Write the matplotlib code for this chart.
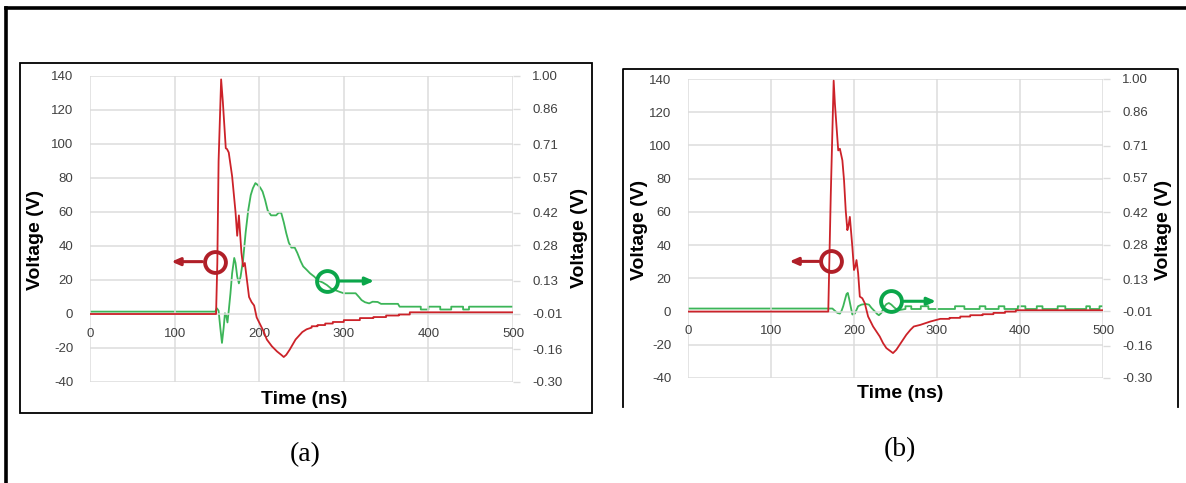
import numpy as np
import matplotlib
matplotlib.use("Agg")
import matplotlib.pyplot as plt
from matplotlib.lines import Line2D
from matplotlib.patches import Rectangle

# ---- data: time in ns, left axis in V, right axis (probe) in V ----
t_a_red = [0, 149, 150.5, 152, 155, 157, 160.5, 162, 164, 168, 172, 174, 176, 179, 181, 183,
           186, 188, 191, 194, 197, 201, 205, 209, 215, 221, 226, 229, 232, 236, 243, 251,
           256, 262, 262, 269, 269, 278, 278, 287, 287, 300, 300, 319, 319, 335, 335, 350,
           350, 365, 365, 378, 378, 500]
v_a_red = [0, 0, 30, 90, 138, 125, 97.5, 97, 95, 81, 60, 46, 58, 36, 28, 30,
           18, 10, 7, 5, -2, -6, -10, -15, -19, -22, -24, -25.3, -24, -21, -15, -10.6,
           -9, -8, -7.2, -7.2, -6.5, -6.5, -5.6, -5.6, -4.7, -4.7, -3.6, -3.6, -2.4, -2.4, -1.8, -1.8,
           -0.9, -0.9, -0.3, -0.3, 1, 1]

t_a_green = [0, 148, 150, 152, 154, 156, 158, 159.5, 161, 162.5, 164, 166, 168, 170.5, 172,
             174, 176, 178, 181, 184, 187, 190, 192.5, 195.5, 198, 201, 204, 207, 210, 214,
             220, 223, 226, 229, 232, 235, 238, 242, 245, 249, 252, 256, 260, 265, 270, 275,
             280, 285, 290, 295, 300, 314, 318, 321, 325, 330, 334, 340, 344, 364, 366, 391,
             391, 400, 400, 414, 414, 427, 427, 441, 441, 448, 448, 500]
v_a_green = [-0.001, -0.001, 0.013, 0.003, -0.069, -0.134, -0.069, -0.008, -0.018, -0.047, 0.003, 0.076, 0.162, 0.227, 0.206,
             0.148, 0.119, 0.148, 0.220, 0.336, 0.429, 0.494, 0.523, 0.545, 0.538, 0.527, 0.509, 0.473, 0.429, 0.408,
             0.408, 0.419, 0.419, 0.379, 0.332, 0.292, 0.271, 0.271, 0.249, 0.213, 0.191, 0.177, 0.162, 0.148, 0.130, 0.123,
             0.112, 0.097, 0.090, 0.083, 0.077, 0.077, 0.061, 0.048, 0.039, 0.034, 0.041, 0.040, 0.032, 0.032, 0.020, 0.020,
             0.008, 0.008, 0.020, 0.020, 0.008, 0.008, 0.020, 0.020, 0.008, 0.008, 0.020, 0.020]

t_b_red = [0, 169, 172, 175.5, 177, 179, 181, 183, 186, 188, 190, 192, 193.5, 195, 196.5, 198,
           200, 201.5, 203, 205, 207, 210, 213, 217, 220, 223, 227, 231, 235, 239, 243, 247,
           251, 255, 259, 263, 268, 272, 276, 280, 286, 292, 298, 304, 315, 315, 328, 328,
           340, 340, 355, 355, 368, 368, 382, 382, 395, 395, 500]
v_b_red = [0, 0, 70, 139, 125, 111, 97, 98, 91, 79, 61, 49, 52, 57, 48, 39,
           25, 27, 31, 23, 9, 8, 5, -3, -6, -9, -12, -15, -19, -22, -23.5, -25,
           -23, -20, -17, -14, -11, -9, -8.5, -8, -7, -6, -5.2, -4.4, -4.4, -3.8, -3.8, -3.0,
           -3.0, -2.2, -2.2, -1.6, -1.6, -0.8, -0.8, 0, 0, 0.8, 0.8]

t_b_green = [0, 174, 177, 180, 183, 185, 187, 189, 191, 192.5, 194, 196, 198, 201, 203, 205,
             209, 214, 218, 221, 225, 228, 230, 233, 236, 239, 242, 245, 249, 253, 257, 262,
             262, 269, 269, 280.5, 280.5, 289.6, 289.6, 321.7, 321.7, 333, 333, 351.4, 351.4, 358.3,
             358.3, 374.3, 374.3, 381.2, 381.2, 397.4, 397.4, 406.5, 406.5, 420.2, 420.2, 427.1,
             427.1, 445.4, 445.4, 454.6, 454.6, 479.8, 479.8, 484.3, 484.3, 495.8, 495.8, 500]
v_b_green = [0.002, 0.002, -0.008, -0.017, -0.020, -0.008, 0.012, 0.039, 0.065, 0.070, 0.047, 0.011, -0.024, -0.020, -0.004, 0.012,
             0.019, 0.022, 0.019, 0.005, -0.010, -0.022, -0.027, -0.017, 0.007, 0.021, 0.026, 0.019, 0.005, -0.005, -0.003, 0.000,
             0.012, 0.012, 0.000, 0.000, 0.012, 0.012, 0.000, 0.000, 0.012, 0.012, 0.000, 0.000, 0.012, 0.012,
             0.000, 0.000, 0.012, 0.012, 0.000, 0.000, 0.012, 0.012, 0.000, 0.000, 0.012, 0.012,
             0.000, 0.000, 0.012, 0.012, 0.000, 0.000, 0.012, 0.012, 0.000, 0.000, 0.012, 0.012]

left_ticks = [-40, -20, 0, 20, 40, 60, 80, 100, 120, 140]
right_ticks = [-0.30, -0.16, -0.01, 0.13, 0.28, 0.42, 0.57, 0.71, 0.86, 1.00]
x_ticks = [0, 100, 200, 300, 400, 500]

RED = "#cc2229"
GREEN = "#3cb558"
RED_MARK = "#b01f28"
GREEN_MARK = "#0ba64a"
TICK_COLOR = "#404040"
GRID = "#dcdcdc"

W, H = 1186, 483
plt.rcParams["font.family"] = ["Liberation Sans", "DejaVu Sans"]
plt.rcParams["axes.unicode_minus"] = False
fig = plt.figure(figsize=(W / 100, H / 100), dpi=100)


def px_axes(l, t, r, b):
    return fig.add_axes([l / W, 1 - b / H, (r - l) / W, (b - t) / H])


def fig_line(xs, ys, lw):
    fig.add_artist(Line2D([x / W for x in xs], [1 - y / H for y in ys],
                          transform=fig.transFigure, color="black", lw=lw))


def draw_panel(box, t_red, v_red, t_green, v_green, red_mark, green_mark):
    l, t, r, b = box
    ax = px_axes(l, t, r, b)
    ax.set_xlim(0, 500)
    ax.set_ylim(-40, 140)
    ax.set_xticks(x_ticks)
    ax.set_yticks(left_ticks)
    ax.grid(True, color=GRID, lw=1.1)
    ax.set_axisbelow(True)
    for s in ax.spines.values():
        s.set_visible(False)
    ax.spines["bottom"].set_position(("data", 0))
    ax.tick_params(axis="x", length=0, pad=10, labelsize=9.5, labelcolor=TICK_COLOR)
    ax.tick_params(axis="y", length=0, pad=12, labelsize=9.5, labelcolor=TICK_COLOR)

    ax2 = ax.twinx()
    ax2.set_ylim(-0.30, 1.00)
    ax2.set_yticks(right_ticks)
    ax2.set_yticklabels([f"{v:.2f}" for v in right_ticks])
    for s in ax2.spines.values():
        s.set_visible(False)
    ax2.tick_params(axis="y", length=5, width=1, color=GRID, pad=9,
                    labelsize=9.5, labelcolor=TICK_COLOR)

    ax2.plot(t_green, v_green, color=GREEN, lw=1.3, zorder=3)
    ax.plot(t_red, v_red, color=RED, lw=1.3, zorder=4)
    ax.set_zorder(ax2.get_zorder() + 1)
    ax.patch.set_visible(False)

    # circle markers with arrows pointing to the owning axis
    rx, ry, rtip = red_mark
    gx, gy, gtip = green_mark
    kw = dict(arrowstyle="-|>,head_length=0.5,head_width=0.22", lw=2.2)
    ax.annotate("", xy=(rtip, ry), xytext=(rx - 12, ry),
                arrowprops=dict(color=RED_MARK, **kw), zorder=6)
    ax.plot(rx, ry, "o", ms=15, mfc="none", mec=RED_MARK, mew=2.8, zorder=7)
    ax.annotate("", xy=(gtip, gy), xytext=(gx + 12, gy),
                arrowprops=dict(color=GREEN_MARK, **kw), zorder=6)
    ax.plot(gx, gy, "o", ms=15, mfc="none", mec=GREEN_MARK, mew=2.8, zorder=7)
    return ax


draw_panel((90, 76, 513, 382), t_a_red, v_a_red, t_a_green, v_a_green,
           (148, 30.8, 93), (280, 19.4, 339))
draw_panel((688, 79, 1103, 378), t_b_red, v_b_red, t_b_green, v_b_green,
           (172.8, 30.2, 119), (245, 6.2, 302))

label_kw = dict(fontsize=14, fontweight="bold", color="black", ha="center", va="center")
fig.text(36 / W, 1 - 240 / H, "Voltage (V)", rotation=90, **label_kw)
fig.text(580 / W, 1 - 238 / H, "Voltage (V)", rotation=90, **label_kw)
fig.text(304 / W, 1 - 399 / H, "Time (ns)", **label_kw)
fig.text(640 / W, 1 - 230 / H, "Voltage (V)", rotation=90, **label_kw)
fig.text(1163 / W, 1 - 230 / H, "Voltage (V)", rotation=90, **label_kw)
fig.text(900 / W, 1 - 394 / H, "Time (ns)", **label_kw)

cap_kw = dict(fontsize=20, family="Liberation Serif", ha="center", va="center")
fig.text(305 / W, 1 - 455 / H, "(a)", **cap_kw)
fig.text(900 / W, 1 - 450 / H, "(b)", **cap_kw)

# frames
fig_line([6, 6], [8, 483], 2.6)
fig_line([6, 1186], [8, 8], 2.6)
fig.add_artist(Rectangle((20 / W, 1 - 413 / H), 572 / W, 350 / H, fill=False,
                         ec="black", lw=1.3, transform=fig.transFigure))
fig_line([623, 623, 1178, 1178], [407, 69, 69, 407], 1.3)

fig.savefig("out.png", dpi=100)
